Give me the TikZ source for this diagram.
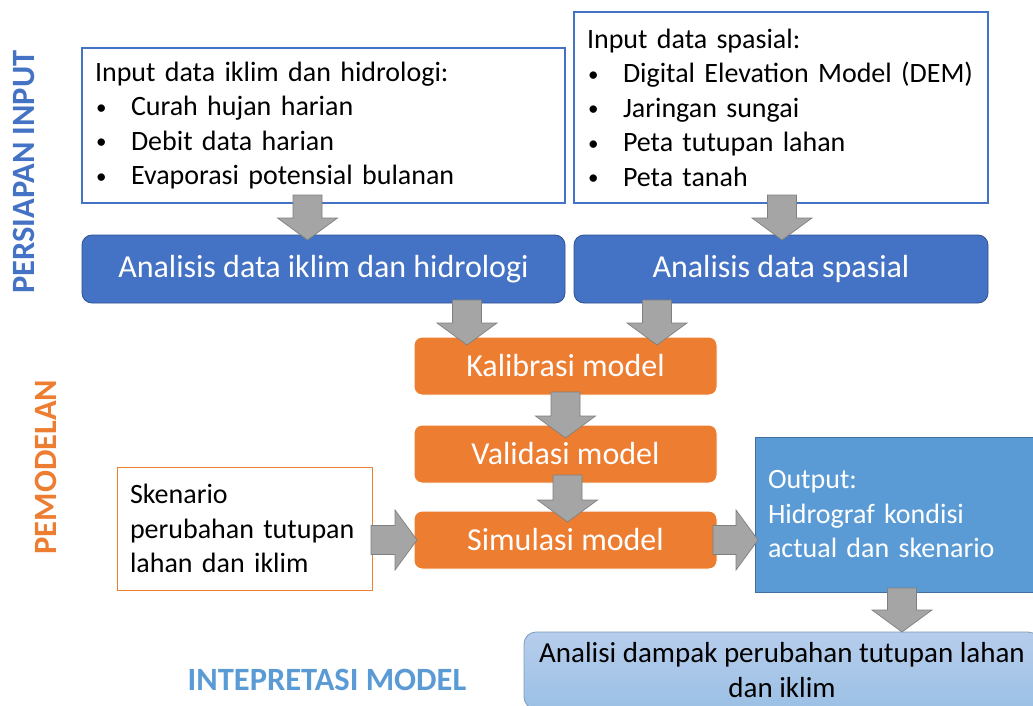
\documentclass[tikz,border=0pt]{standalone}
\usepackage{fontspec}
\setmainfont{Carlito}
\usetikzlibrary{positioning, calc}

\definecolor{inblue}{HTML}{4472C4}
\definecolor{inblueedge}{HTML}{2F528F}
\definecolor{modorange}{HTML}{ED7D31}
\definecolor{outblue}{HTML}{5B9BD5}
\definecolor{outblueedge}{HTML}{41719C}
\definecolor{arrowgray}{HTML}{A5A5A5}
\definecolor{arrowedge}{HTML}{808080}
\definecolor{resulttop}{HTML}{B7CDEC}
\definecolor{resultbot}{HTML}{9BC0E5}

% bullet item inside the input boxes
\newcommand{\itemline}[1]{\makebox[36pt][l]{\hspace{1pt}\raisebox{1.5pt}{\fontsize{21}{21}\selectfont\textbullet}}#1}

\begin{document}
\begin{tikzpicture}[
    x=1pt, y=-1pt,
    every node/.style={font=\fontsize{28}{34.5}\selectfont, inner sep=0pt, outer sep=0pt},
    listbox/.style={draw=inblue, line width=1.2pt, fill=white, align=left, anchor=north west, inner xsep=13pt},
    stepblue/.style={draw=inblueedge, fill=inblue, text=white, rounded corners=10pt, minimum height=68pt,
      line width=0.8pt, font=\fontsize{32}{38}\selectfont},
    steporange/.style={draw=white, fill=modorange, text=white, rounded corners=8pt, minimum width=303pt,
      minimum height=58pt, line width=1pt, font=\fontsize{32}{38}\selectfont},
    sidelabel/.style={font=\fontsize{32.5}{38}\selectfont\bfseries},
    fatarrow/.style={draw=arrowedge, fill=arrowgray, line width=0.7pt, line join=miter,
      to path={
        ($(\tikztostart)!14.5pt!90:(\tikztotarget)$)
        -- ($(\tikztotarget)!22pt!(\tikztostart)!14.5pt!90:(\tikztotarget)$)
        -- ($(\tikztotarget)!22pt!(\tikztostart)!30pt!90:(\tikztotarget)$)
        -- (\tikztotarget)
        -- ($(\tikztotarget)!22pt!(\tikztostart)!30pt!-90:(\tikztotarget)$)
        -- ($(\tikztotarget)!22pt!(\tikztostart)!14.5pt!-90:(\tikztotarget)$)
        -- ($(\tikztostart)!14.5pt!-90:(\tikztotarget)$)
        -- cycle}}
  ]
  \clip (0,0) rectangle (1033,706);
  \fill[white] (0,0) rectangle (1033,706);

  % persiapan input
  \node[listbox, text width=457pt, minimum height=155pt] (inclim) at (82,48)
    {Input data iklim dan hidrologi:\\
     \itemline{Curah hujan harian}\\
     \itemline{Debit data harian}\\
     \itemline{Evaporasi potensial bulanan}};
  \node[listbox, text width=388pt, minimum height=191pt] (inspat) at (574,12)
    {Input data spasial:\\
     \itemline{Digital Elevation Model (DEM)}\\
     \itemline{Jaringan sungai}\\
     \itemline{Peta tutupan lahan}\\
     \itemline{Peta tanah}};
  \node[stepblue, minimum width=483pt, below=32pt of inclim.south west, anchor=north west] (anclim)
    {Analisis data iklim dan hidrologi};
  \node[stepblue, minimum width=414pt, below=32pt of inspat.south west, anchor=north west] (anspat)
    {Analisis data spasial};

  % pemodelan
  \node[steporange, anchor=north] (kalib) at (565.5,337) {Kalibrasi model};
  \node[steporange, below=30pt of kalib] (valid) {Validasi model};
  \node[steporange, below=28pt of valid] (simul) {Simulasi model};
  \node[draw=modorange, line width=1pt, fill=white, align=left, anchor=north west,
        text width=229pt, inner xsep=13pt, minimum height=123pt] (skenario) at (117,467)
    {Skenario\\perubahan tutupan\\lahan dan iklim};
  \node[draw=outblueedge, fill=outblue, text=white, line width=0.8pt, align=left, anchor=north west,
        text width=264pt, inner xsep=13pt, minimum height=155pt] (output) at (755,437)
    {Output:\\Hidrograf kondisi\\actual dan skenario};

  % intepretasi
  \node[draw=outblueedge!70, top color=resulttop, bottom color=resultbot, rounded corners=12pt,
        line width=0.8pt, align=center, minimum width=516pt, minimum height=77pt, anchor=north,
        font=\fontsize{29}{35}\selectfont] (dampak) at (782,632)
    {Analisi dampak perubahan tutupan lahan\\dan iklim};

  \node[sidelabel, text=inblue, rotate=90] (persiapan) at (24,172) {PERSIAPAN INPUT};
  \node[sidelabel, text=modorange, rotate=90] (pemodelan) at (46,467) {PEMODELAN};
  \node[sidelabel, text=outblue] (intepretasi) at (327,680) {INTEPRETASI MODEL};

  % block arrows
  \coordinate (kalin1) at ([xshift=53pt]kalib.north west);
  \coordinate (kalin2) at ([xshift=243pt]kalib.north west);
  \draw[fatarrow] ([xshift=-16pt,yshift=8pt]inclim.south) to ([xshift=-16pt,yshift=-5pt]anclim.north);
  \draw[fatarrow] ([xshift=1pt,yshift=8pt]inspat.south) to ([xshift=1pt,yshift=-5pt]anspat.north);
  \draw[fatarrow] ([yshift=3pt]anclim.south -| kalin1) to ([yshift=-8pt]kalin1);
  \draw[fatarrow] ([yshift=3pt]anspat.south -| kalin2) to ([yshift=-8pt]kalin2);
  \draw[fatarrow] ([yshift=3pt]kalib.south) to ([yshift=-13pt]valid.north);
  \draw[fatarrow] ([xshift=2pt,yshift=8pt]valid.south) to ([xshift=2pt,yshift=-11pt]simul.north);
  \draw[fatarrow] ([xshift=-1pt]skenario.east |- simul.west) to ([xshift=3pt]simul.west);
  \draw[fatarrow] ([xshift=-4pt]simul.east) to ([xshift=3pt]output.west |- simul.east);
  \draw[fatarrow] ([xshift=147pt,yshift=4pt]output.south west) to ([xshift=147pt]output.south west |- dampak.north);
\end{tikzpicture}
\end{document}
